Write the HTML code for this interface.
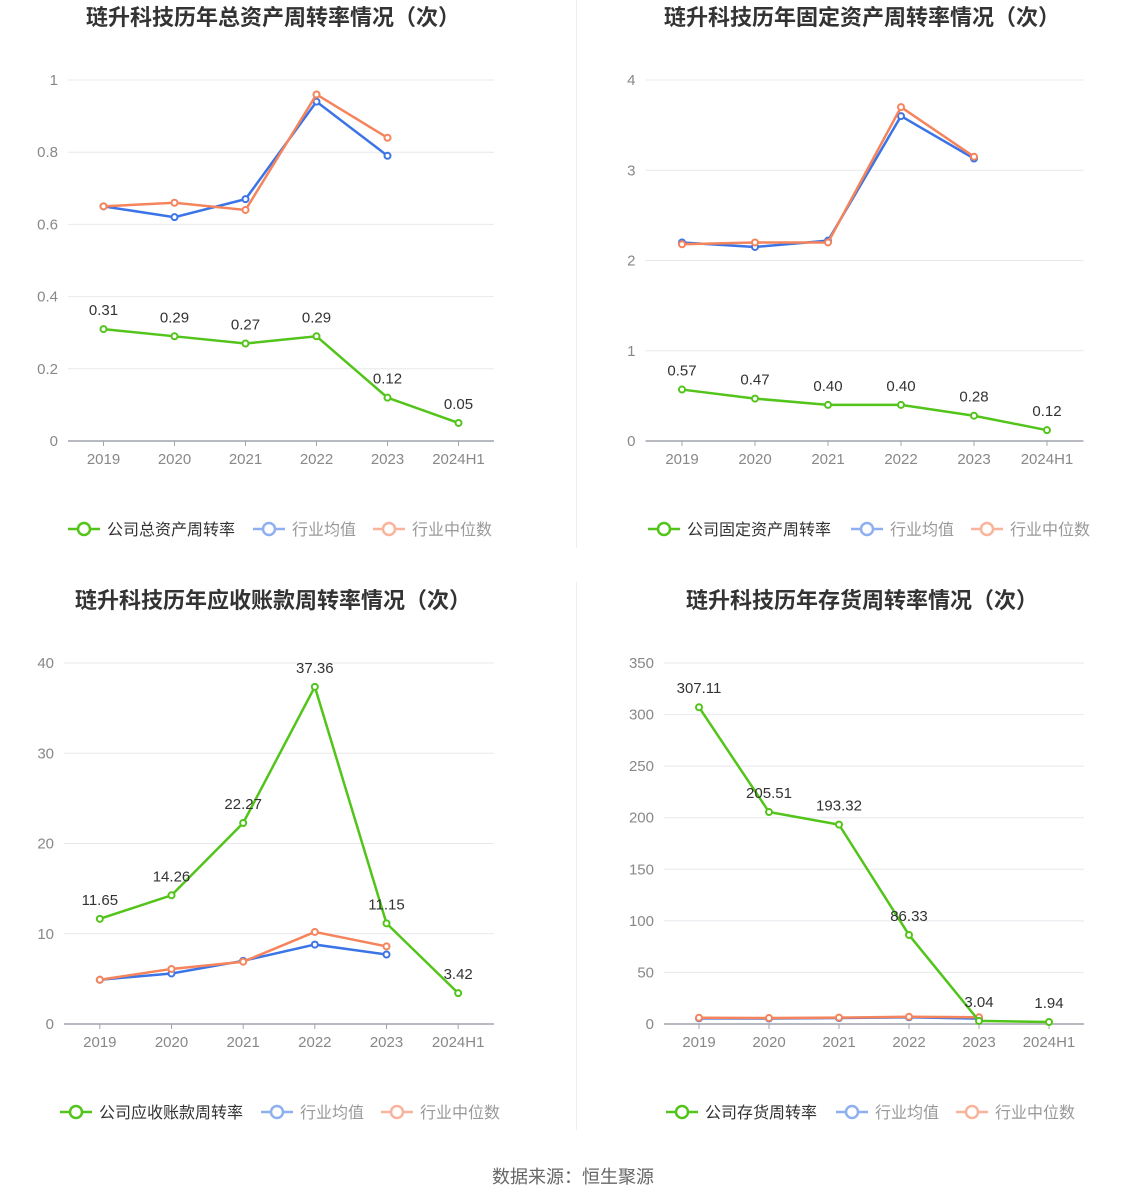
<!DOCTYPE html>
<html><head><meta charset="utf-8">
<style>
html,body{margin:0;padding:0;background:#fff;}
svg{display:block;font-family:"Liberation Sans","Noto Sans CJK SC",sans-serif;}
</style></head>
<body>
<svg id="root" width="1147" height="1202" viewBox="0 0 1147 1202">
<line x1="576.5" y1="0" x2="576.5" y2="548" stroke="#eeeeee"/>
<line x1="576.5" y1="582" x2="576.5" y2="1130" stroke="#eeeeee"/>
<text x="573" y="1183" text-anchor="middle" font-size="18" fill="#666">数据来源：恒生聚源</text>
</svg>
<script>
const categories = ["2019","2020","2021","2022","2023","2024H1"];
const c1Company = [0.31,0.29,0.27,0.29,0.12,0.05];
const c1Avg = [0.65,0.62,0.67,0.94,0.79];
const c1Med = [0.65,0.66,0.64,0.96,0.84];
const c1Ticks = [0,0.2,0.4,0.6,0.8,1];
const c1Labels = ["0.31","0.29","0.27","0.29","0.12","0.05"];
const c2Company = [0.57,0.47,0.40,0.40,0.28,0.12];
const c2Avg = [2.2,2.15,2.22,3.6,3.13];
const c2Med = [2.18,2.2,2.2,3.7,3.15];
const c2Ticks = [0,1,2,3,4];
const c2Labels = ["0.57","0.47","0.40","0.40","0.28","0.12"];
const c3Company = [11.65,14.26,22.27,37.36,11.15,3.42];
const c3Avg = [4.9,5.6,7.0,8.8,7.7];
const c3Med = [4.9,6.1,6.9,10.2,8.6];
const c3Ticks = [0,10,20,30,40];
const c3Labels = ["11.65","14.26","22.27","37.36","11.15","3.42"];
const c4Company = [307.11,205.51,193.32,86.33,3.04,1.94];
const c4Avg = [5.5,5.3,5.8,6.5,5.2];
const c4Med = [6,5.8,6.2,7,6.5];
const c4Ticks = [0,50,100,150,200,250,300,350];
const c4Labels = ["307.11","205.51","193.32","86.33","3.04","1.94"];

const NS="http://www.w3.org/2000/svg";
const root=document.getElementById('root');
function mk(tag,attrs,parent,text){const e=document.createElementNS(NS,tag);for(const k in attrs)e.setAttribute(k,attrs[k]);if(text!==undefined)e.textContent=text;(parent||root).appendChild(e);return e;}

const charts=[
 {title:"琏升科技历年总资产周转率情况（次）",tx:273,ty:25,x0:68,x1:494,yTop:80,yBot:441,max:1,ticks:c1Ticks,fmt:v=>String(v),comp:c1Company,avg:c1Avg,med:c1Med,labels:c1Labels,leg:"公司总资产周转率",lx:[68,253,373],ly:529,name:"total-asset"},
 {title:"琏升科技历年固定资产周转率情况（次）",tx:862,ty:25,x0:645.5,x1:1083.5,yTop:80,yBot:441,max:4,ticks:c2Ticks,fmt:v=>String(v),comp:c2Company,avg:c2Avg,med:c2Med,labels:c2Labels,leg:"公司固定资产周转率",lx:[648,851,971],ly:529,name:"fixed-asset"},
 {title:"琏升科技历年应收账款周转率情况（次）",tx:273,ty:608,x0:64,x1:494,yTop:663,yBot:1024,max:40,ticks:c3Ticks,fmt:v=>String(v),comp:c3Company,avg:c3Avg,med:c3Med,labels:c3Labels,leg:"公司应收账款周转率",lx:[60,261,381],ly:1112,name:"receivables"},
 {title:"琏升科技历年存货周转率情况（次）",tx:862,ty:608,x0:664,x1:1084,yTop:663,yBot:1024,max:350,ticks:c4Ticks,fmt:v=>String(v),comp:c4Company,avg:c4Avg,med:c4Med,labels:c4Labels,leg:"公司存货周转率",lx:[666,836,956],ly:1112,name:"inventory"}
];
const GREEN="#52c41a",BLUE="#3b74e6",ORANGE="#f5845c";
charts.forEach(c=>{
 const g=mk('g',{});  
 const step=(c.x1-c.x0)/categories.length;
 const X=i=>c.x0+step*(i+0.5);
 const Y=v=>c.yBot-(v/c.max)*(c.yBot-c.yTop);
 const t=mk('text',{x:c.tx,y:c.ty,'text-anchor':'middle','font-size':22,'font-weight':'bold',fill:'#333'},g,c.title);
  
 c.ticks.forEach(v=>{
  const y=Y(v);
  if(v!==0){const l=mk('line',{x1:c.x0,x2:c.x1,y1:y,y2:y,stroke:'#e8e8ee'},g);}
  const tl=mk('text',{x:c.x0-10,y:y+5,'text-anchor':'end','font-size':15,fill:'#888'},g,c.fmt(v));
  
 });
 const ax=mk('line',{x1:c.x0,x2:c.x1,y1:c.yBot,y2:c.yBot,stroke:'#a0a4ad','stroke-width':1.5},g);
 
 categories.forEach((cat,i)=>{
  const tk=mk('line',{x1:X(i),x2:X(i),y1:c.yBot,y2:c.yBot+5,stroke:'#a0a4ad'},g);
  
  const tl=mk('text',{x:X(i),y:c.yBot+23,'text-anchor':'middle','font-size':15,fill:'#888'},g,cat);
  
 });
 function series(vals,color,nm){
  const pts=vals.map((v,i)=>X(i)+','+Y(v)).join(' ');
  const pl=mk('polyline',{points:pts,fill:'none',stroke:color,'stroke-width':2.5},g);
  
  vals.forEach((v,i)=>{const ci=mk('circle',{cx:X(i),cy:Y(v),r:3,fill:'#fff',stroke:color,'stroke-width':2},g);
   });
 }
 series(c.avg,BLUE,'industry-average');
 series(c.med,ORANGE,'industry-median');
 series(c.comp,GREEN,'company');
 c.comp.forEach((v,i)=>{const tl=mk('text',{x:X(i),y:Y(v)-14,'text-anchor':'middle','font-size':15,fill:'#333'},g,c.labels[i]);
  });
 const legs=[[c.leg,GREEN,'#333'],["行业均值","#8fb0f0","#999"],["行业中位数","#f8b49c","#999"]];
 legs.forEach((L,k)=>{
  const lg=mk('g',{},g);
  const x=c.lx[k];
  mk('line',{x1:x,x2:x+32,y1:c.ly,y2:c.ly,stroke:L[1],'stroke-width':2.5},lg);
  mk('circle',{cx:x+16,cy:c.ly,r:6,fill:'#fff',stroke:L[1],'stroke-width':2.5},lg);
  mk('text',{x:x+39,y:c.ly+6,'font-size':16,fill:L[2]},lg,L[0]);
 });
});
</script>
</body></html>
